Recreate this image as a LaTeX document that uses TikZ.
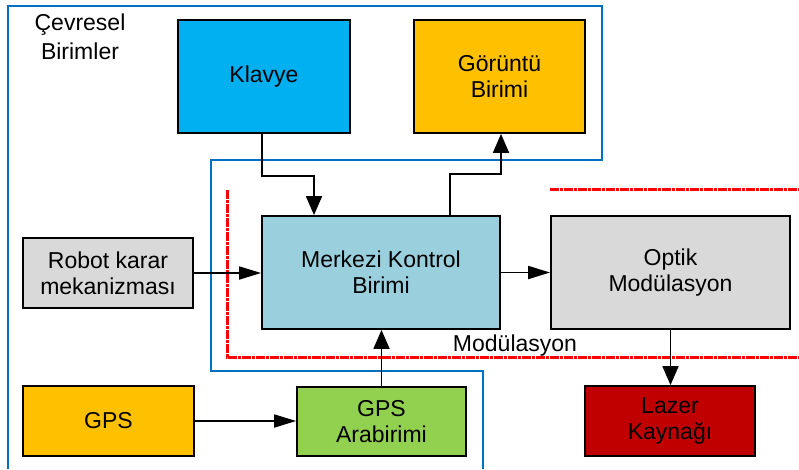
\documentclass[tikz,border=0pt]{standalone}
\usepackage{fontspec}
\setmainfont{Liberation Sans}
\usetikzlibrary{arrows.meta}
\definecolor{cKlav}{RGB}{0,176,240}
\definecolor{cOrange}{RGB}{255,192,0}
\definecolor{cMerk}{RGB}{154,208,222}
\definecolor{cGray}{RGB}{217,217,217}
\definecolor{cGreen}{RGB}{146,208,80}
\definecolor{cRed}{RGB}{192,0,0}
\definecolor{cBlue}{RGB}{0,112,192}
\definecolor{cDash}{RGB}{255,0,0}
\tikzset{
  blk/.style={draw=black, line width=1.8pt, rectangle, inner sep=0pt, align=center,
    font=\fontsize{23}{26}\selectfont},
  varr/.style={line width=1.8pt, -{Triangle[length=19pt,width=16pt]}},
  harr/.style={line width=1.8pt, -{Triangle[length=22pt,width=13pt]}},
  lbl/.style={font=\fontsize{23}{28.6}\selectfont, align=center, inner sep=0pt},
  reddash/.style={cDash, line width=3pt, dash pattern=on 9pt off 1pt on 3pt off 1pt},
}
\begin{document}
\begin{tikzpicture}[x=1pt,y=-1pt]
\useasboundingbox (0,0) rectangle (799,469);
% outlines
\draw[cBlue, line width=1.6pt] (8,469) -- (8,6) -- (602,6) -- (602,160) -- (211,160) -- (211,371) -- (483,371) -- (483,469);
\draw[reddash] (227,190) -- (227,357) -- (799,357);
\draw[reddash] (550,189) -- (799,189);
% nodes
\node[blk, fill=cKlav, minimum width=172pt, minimum height=113pt] (klav) at (264,76.5) {Klavye};
\node[blk, fill=cOrange, minimum width=171pt, minimum height=113pt] (gor) at (499.5,76.5) {Görüntü\\Birimi};
\node[blk, fill=cMerk, minimum width=238pt, minimum height=113pt] (mk) at (381,272.5) {Merkezi Kontrol\\Birimi};
\node[blk, fill=cGray, minimum width=239pt, minimum height=113pt] (opt) at (670.5,272.5) {Optik\\Modülasyon};
\node[blk, fill=cGray, minimum width=170pt, minimum height=70pt] (rob) at (108,273) {Robot karar\\mekanizması};
\node[blk, fill=cOrange, minimum width=171pt, minimum height=70pt] (gps) at (108.5,421) {GPS};
\node[blk, fill=cGreen, minimum width=169pt, minimum height=69pt] (gpsa) at (381.5,421.5) {GPS\\Arabirimi};
\node[blk, fill=cRed, minimum width=170pt, minimum height=70pt] (laz) at (670,421) {Lazer\\Kaynağı};
% labels
\node[lbl, anchor=base] (cev) at (80,59.3) {Çevresel\\Birimler};
\node[lbl, anchor=base] (mod) at (515,351) {Modülasyon};
% connectors
\draw[varr] ([xshift=-2pt]klav.south) -- ++(0,42) -| ([xshift=-67pt]mk.north);
\draw[varr] ([xshift=69pt]mk.north) -- ++(0,-41) -| ([xshift=1.5pt]gor.south);
\draw[harr] (rob.east) -- (rob.east -| mk.west);
\draw[harr] (mk.east |- opt.west) -- (opt.west);
\draw[varr] (opt.south) -- (opt.south |- laz.north);
\draw[harr] (gps.east) -- (gps.east -| gpsa.west);
\draw[varr] (gpsa.north) -- (gpsa.north |- mk.south);
\end{tikzpicture}
\end{document}
